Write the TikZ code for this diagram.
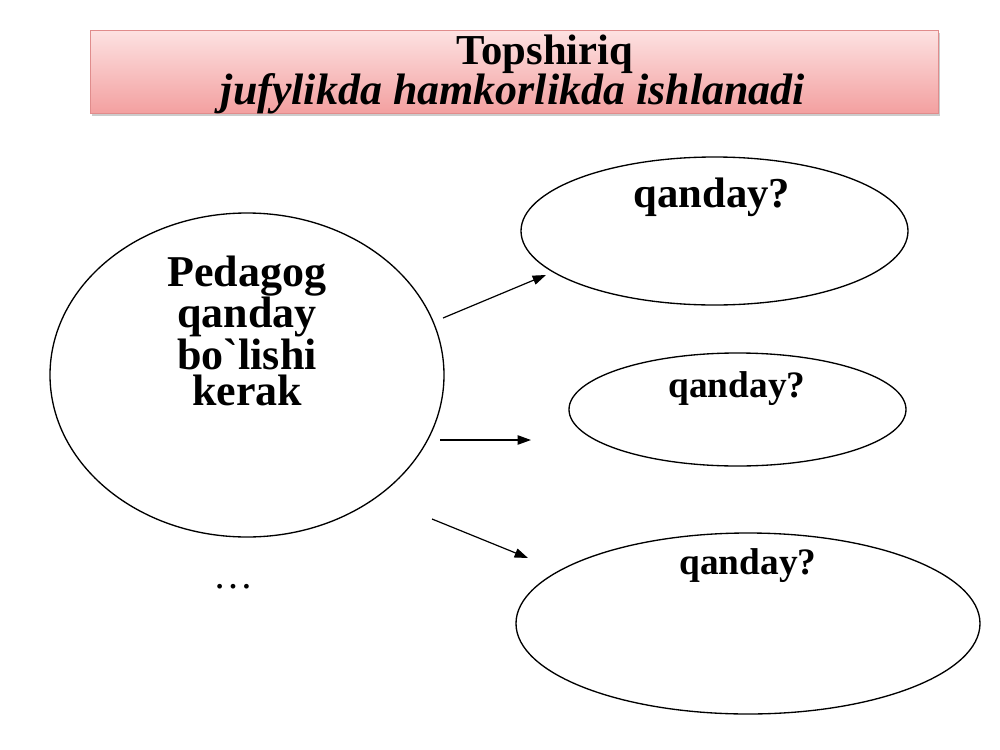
\documentclass[tikz,border=0pt]{standalone}
\usepackage{fontspec}
\setmainfont{Liberation Serif}[Ligatures=TeXOff]
\usetikzlibrary{shapes.geometric,arrows.meta,shadows}
\definecolor{titletop}{HTML}{FDE2E2}
\definecolor{titlebot}{HTML}{F3A0A0}
\definecolor{titleedge}{HTML}{E08C8C}
\begin{document}
\begin{tikzpicture}[
      x=0.75pt, y=-0.75pt,
      oval/.style={draw, ellipse, inner sep=0pt, line width=1pt},
      word/.style={anchor=base, align=center, inner sep=0pt,
                   font=\bfseries\fontsize{#1}{27}\selectfont},
      link/.style={-{Triangle[length=10pt,width=7pt]}, line width=0.9pt}
    ]
      \useasboundingbox (0,0) rectangle (1000,750);
      \node[draw=titleedge, top color=titletop, bottom color=titlebot,
            drop shadow={shadow xshift=1.5pt, shadow yshift=-2pt, opacity=0.4},
            minimum width=636pt, minimum height=62.25pt] (title) at (514,71.5) {};
      \node[word=32] (head) at (545,64) {Topshiriq};
      \node[anchor=base, inner sep=0pt,
            font=\bfseries\itshape\fontsize{33}{33}\selectfont] (task) at (513,104)
            {jufylikda hamkorlikda ishlanadi};

      \node[oval, minimum width=295.5pt, minimum height=243pt] (ped) at (247,375) {};
      \node[oval, minimum width=290.25pt, minimum height=111pt] (q1) at (714.5,231) {};
      \node[oval, minimum width=252.75pt, minimum height=84.75pt] (q2) at (737.5,409.5) {};
      \node[oval, minimum width=348pt, minimum height=135.75pt] (q3) at (748,623.5) {};

      \node[word=33] (pedtext) at (247,405) {Pedagog\\qanday\\bo`lishi\\kerak};
      \node[word=32] (q1text) at (712,207) {qanday?};
      \node[word=28] (q2text) at (737,397) {qanday?};
      \node[word=28] (q3text) at (748,574) {qanday?};
      \node[anchor=base, inner sep=0pt, font=\fontsize{30}{30}\selectfont] (more) at (233,588) {…};

      \coordinate (a1) at (443,318);
      \coordinate (b1) at (546,275);
      \coordinate (a2) at (440,440);
      \coordinate (b2) at (531,440);
      \coordinate (a3) at (432,519);
      \coordinate (b3) at (528,558);
      \foreach \s/\t in {a1/b1, a2/b2, a3/b3}
        \draw[link] (\s) -- (\t);
    \end{tikzpicture}
\end{document}
